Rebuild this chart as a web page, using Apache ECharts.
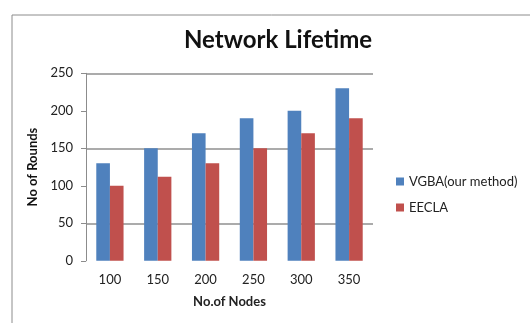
<!DOCTYPE html>
<html>
<head>
<meta charset="utf-8">
<script src="https://cdn.jsdelivr.net/npm/echarts@6/dist/echarts.min.js"></script>
<style>
html,body{margin:0;padding:0;background:#fff;}
#chart{width:530px;height:323px;}
</style>
</head>
<body>
<div id="chart"></div>
<script>
const titleText = 'Network Lifetime';
const categories = ['100', '150', '200', '250', '300', '350'];
const seriesNames = ['VGBA(our method)', 'EECLA'];
const vgbaValues = [130, 150, 170, 190, 200, 230];
const eeclaValues = [100, 112, 130, 150, 170, 190];
const yTicks = [0, 50, 100, 150, 200, 250];
const xAxisName = 'No.of Nodes';
const yAxisName = 'No of Rounds';

const chart = echarts.init(document.getElementById('chart'), null, {renderer: 'canvas'});
const font = 'Lato, "Open Sans", sans-serif';
chart.setOption({
  animation: false,
  backgroundColor: '#ffffff',
  textStyle: {fontFamily: font},
  graphic: [{
    type: 'rect', left: 9.5, top: 12.5,
    shape: {width: 620, height: 400},
    style: {fill: 'none', stroke: '#8c8c8c', lineWidth: 1},
    silent: true, z: -1
  }],
  title: {
    text: titleText,
    left: 273, top: 23, textAlign: 'center',
    textStyle: {fontFamily: font, fontWeight: 'bold', fontSize: 24, color: '#111'}
  },
  legend: {
    orient: 'vertical',
    left: 391, top: 170,
    itemWidth: 8, itemHeight: 8, itemGap: 13,
    icon: 'rect',
    data: seriesNames,
    textStyle: {fontFamily: font, fontSize: 13, color: '#222'}
  },
  grid: {left: 86, right: 157, top: 73.3, bottom: 62.2, containLabel: false},
  xAxis: {
    type: 'category',
    data: categories,
    name: xAxisName,
    nameLocation: 'middle',
    nameGap: 35,
    nameTextStyle: {fontFamily: font, fontSize: 13, fontWeight: 'bold', color: '#222'},
    axisLine: {show: false},
    axisTick: {show: false},
    axisLabel: {margin: 13, fontSize: 13, color: '#222', fontFamily: font}
  },
  yAxis: {
    type: 'value',
    min: yTicks[0], max: yTicks[yTicks.length - 1], interval: 50,
    name: yAxisName,
    nameLocation: 'middle',
    nameGap: 44,
    nameTextStyle: {fontFamily: font, fontSize: 13, fontWeight: 'bold', color: '#111'},
    axisLine: {show: true, lineStyle: {color: '#8c8c8c', width: 1}},
    axisTick: {show: true, length: 5, lineStyle: {color: '#8c8c8c'}},
    axisLabel: {margin: 13, fontSize: 13, color: '#222', fontFamily: font},
    splitLine: {
      show: true,
      lineStyle: {color: ['transparent', '#8f8f8f', 'transparent', '#8f8f8f', 'transparent', '#8f8f8f'], width: 1.5}
    }
  },
  series: [
    {name: seriesNames[0], type: 'bar', data: vgbaValues, barGap: '0%', barCategoryGap: '43%',
     itemStyle: {color: '#4F81BD'}},
    {name: seriesNames[1], type: 'bar', data: eeclaValues, barGap: '0%', barCategoryGap: '43%',
     itemStyle: {color: '#C0504D'}}
  ]
});
</script>
</body>
</html>
